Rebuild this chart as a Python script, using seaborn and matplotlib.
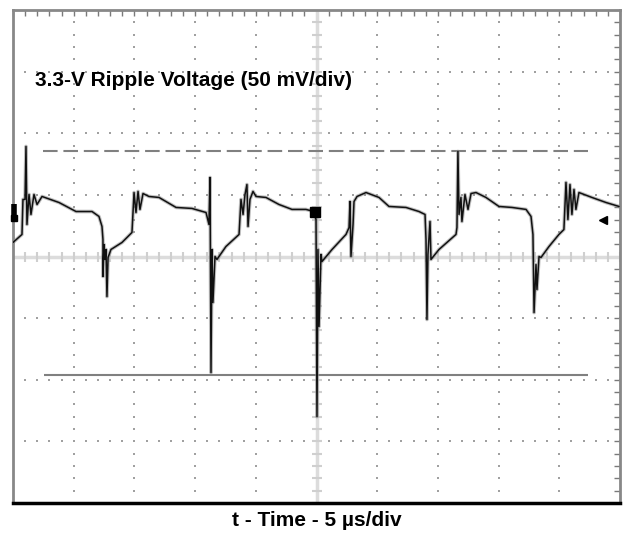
import numpy as np
import pandas as pd
import matplotlib
matplotlib.use("Agg")
import matplotlib.pyplot as plt
import seaborn as sns

# scope settings
us_per_div = 5
mv_per_div = 50

# ripple trace (time in us, ripple in mV about centre line)
time_us = [0.00, 0.74, 0.82, 0.99, 1.07, 1.15, 1.32, 1.48, 1.73, 1.98, 2.39, 3.79, 5.19, 6.51,
           7.08, 7.33, 7.41, 7.41, 7.50, 7.58, 7.66, 7.74, 7.83, 8.07, 8.98, 9.80, 9.97, 10.13,
           10.30, 10.46, 10.71, 11.20, 12.03, 13.43, 14.74, 15.90, 16.14, 16.23, 16.31, 16.39,
           16.47, 16.64, 16.80, 17.54, 18.62, 18.78, 18.95, 19.11, 19.27, 19.36, 19.52, 19.77,
           20.02, 20.84, 21.91, 22.98, 24.13, 24.79, 24.96, 25.04, 25.12, 25.21, 25.37, 25.45,
           26.28, 27.43, 27.68, 27.76, 27.84, 28.01, 28.09, 28.34, 29.08, 30.15, 30.97, 32.37,
           33.44, 33.94, 34.02, 34.10, 34.18, 34.35, 34.43, 35.09, 36.49, 36.57, 36.65, 36.74,
           36.90, 36.98, 37.23, 37.48, 37.73, 38.14, 38.96, 40.03, 41.10, 42.26, 42.67, 42.83,
           42.92, 43.08, 43.16, 43.33, 43.49, 44.15, 44.97, 45.38, 45.55, 45.71, 45.88, 46.04,
           46.21, 46.37, 46.62, 47.69, 48.85, 49.92]
ripple_mv = [11.4, 17.9, 46.3, 46.3, 89.3, 26.0, 50.3, 34.1, 50.3, 42.2, 48.7, 43.8, 36.5, 36.5,
             32.5, 24.4, 13.8, -16.2, 9.7, -2.4, 5.7, -32.5, -0.8, 5.7, 11.4, 19.5, 51.9, 35.7,
             52.8, 38.2, 51.1, 48.7, 47.9, 39.8, 39.0, 35.7, 26.0, 64.1, -94.2, 5.7,
             -37.3, 0.0, -2.4, 8.1, 17.9, 46.3, 34.1, 50.3, 58.4, 24.4, 46.3, 52.8,
             48.7, 47.9, 42.2, 38.2, 38.2, 36.5, 30.0, -129.9, 5.7, -56.8, 1.6, -4.1,
             5.7, 17.9, 23.5, 44.6, 0.0, 26.0, 44.6, 48.7, 51.9, 47.9, 40.6, 39.8,
             36.5, 34.1, 13.8, -51.1, 1.6, 28.4, -2.4, 5.7, 17.9, 23.5, 85.2, 34.1,
             47.9, 28.4, 50.3, 38.2, 51.1, 51.9, 47.9, 40.6, 39.8, 38.2, 32.5, 17.9,
             -45.5, -6.5, -26.8, 0.0, -0.8, 8.1, 17.9, 21.9, 60.1, 30.0, 58.4, 34.1,
             54.4, 38.2, 51.9, 47.9, 43.8, 40.6]

# cursors: (level mV, start us, end us)
cursor_high = (86.0, 2.47, 47.4)
cursor_low = (-95.8, 2.55, 47.4)

df = pd.DataFrame({"t": time_us, "v": ripple_mv})

sns.set_style("white")
plt.rcParams['font.family'] = ['Liberation Sans', 'DejaVu Sans']

fig = plt.figure(figsize=(6.23, 5.33), dpi=100)
ax = fig.add_axes([13/623, 1 - 503/533, 607/623, 493/533])

xmax = 10 * us_per_div
ymax = 4 * mv_per_div
ax.set_xlim(0, xmax)
ax.set_ylim(-ymax, ymax)

# dotted graticule
sub_x = np.arange(0, xmax + 0.01, us_per_div / 5)
sub_y = np.arange(-ymax, ymax + 0.01, mv_per_div / 5)
for gx in np.arange(us_per_div, xmax, us_per_div):
    if gx == xmax / 2:
        continue
    ax.scatter(np.full(len(sub_y), gx), sub_y, s=2.5, color="#a0a0a0", marker="s", lw=0, zorder=1)
for gy in np.arange(-ymax + mv_per_div, ymax, mv_per_div):
    if gy == 0:
        continue
    ax.scatter(sub_x, np.full(len(sub_x), gy), s=2.5, color="#a0a0a0", marker="s", lw=0, zorder=1)

# centre crosshair with small ticks
ax.axhline(0, color="#dcdcdc", lw=2.5, zorder=1)
ax.axvline(xmax / 2, color="#dcdcdc", lw=2.5, zorder=1)
ax.plot(sub_x, np.zeros(len(sub_x)), ls="none", marker="|", ms=7, mew=1.5, color="#cfcfcf", zorder=1)
ax.plot(np.full(len(sub_y), xmax / 2), sub_y, ls="none", marker="_", ms=7, mew=1.5, color="#cfcfcf", zorder=1)

# cursors
ax.hlines(cursor_high[0], cursor_high[1], cursor_high[2], color="#808080", lw=1.5,
          linestyles=(0, (7, 2.8)), zorder=2)
ax.hlines(cursor_low[0], cursor_low[1], cursor_low[2], color="#808080", lw=1.5, zorder=2)

# the waveform, with a soft grey underlay for the persistence smear
sns.lineplot(data=df, x="t", y="v", sort=False, estimator=None, color="#8c8c8c", lw=2.6,
             alpha=0.55, ax=ax, zorder=3)
sns.lineplot(data=df, x="t", y="v", sort=False, estimator=None, color="#111111", lw=1.1,
             ax=ax, zorder=3)

# channel / trigger markers
ax.plot(0.05, 31, marker="s", ms=5, color="black", clip_on=False, zorder=4)
ax.plot(0.05, 36, marker="|", ms=12, mew=4, color="black", clip_on=False, zorder=4)
ax.plot(24.85, 36, marker="s", ms=7, color="black", zorder=4)
ax.plot(48.6, 30, marker="<", ms=6, color="black", zorder=4)

# frame ticks
ax.set_xticks(np.arange(0, xmax + 0.01, us_per_div))
ax.set_yticks(np.arange(-ymax, ymax + 0.01, mv_per_div))
ax.set_xticks(sub_x, minor=True)
ax.set_yticks(sub_y, minor=True)
ax.tick_params(which="both", direction="in", length=4, width=1, color="#7a7a7a",
               top=True, right=True, labelbottom=False, labelleft=False)
ax.set_xlabel("")
ax.set_ylabel("")
for side in ["left", "top", "right"]:
    ax.spines[side].set_color("#888888")
    ax.spines[side].set_linewidth(2)
ax.spines["bottom"].set_color("black")
ax.spines["bottom"].set_linewidth(2.5)

ax.text(0.036, 0.858, "3.3-V Ripple Voltage (50 mV/div)", transform=ax.transAxes,
        fontsize=15, fontweight="bold", va="center", ha="left", color="black")
fig.text(317/623, 1 - 520/533, "t - Time - 5 \u00b5s/div", fontsize=15, fontweight="bold",
         ha="center", va="center", color="black")

fig.savefig("out.png", dpi=100)
